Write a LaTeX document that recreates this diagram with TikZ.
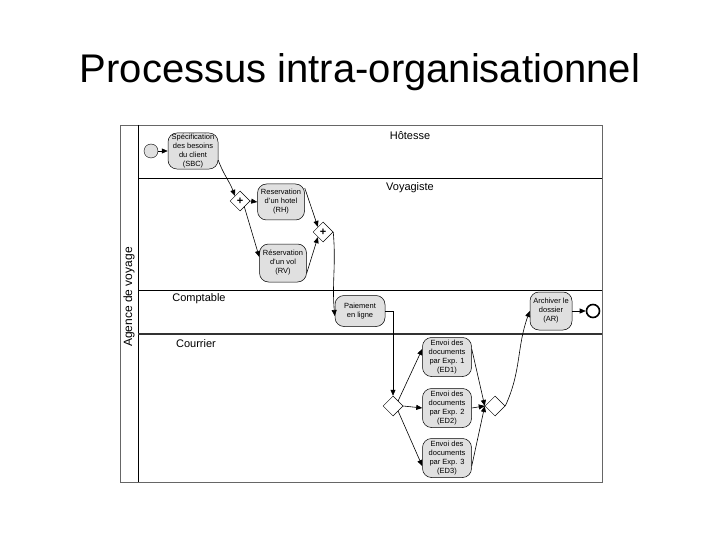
\documentclass[tikz,border=0pt]{standalone}
\usepackage{fontspec}
\setmainfont{Liberation Sans}
\usetikzlibrary{arrows.meta,shapes.geometric}
\begin{document}
\begin{tikzpicture}[x=1pt,y=-1pt,
  task/.style={draw=black,fill=black!12,rounded corners=9pt,minimum width=48pt,minimum height=36pt,inner sep=1pt,align=center,font=\fontsize{7.5}{9}\selectfont,line width=0.5pt},
  gate/.style={draw=black,fill=white,diamond,minimum width=20pt,minimum height=20pt,inner sep=0pt,line width=0.5pt,font=\fontsize{11}{11}\selectfont\bfseries},
  flow/.style={-{Triangle[length=6pt,width=5pt]},line width=0.6pt},
  lane/.style={font=\fontsize{11}{13}\selectfont}]
\useasboundingbox (0,0) rectangle (720,540);
% title
\node[font=\fontsize{40}{44}\selectfont,anchor=base] (title) at (360,83) {Processus intra-organisationnel};
% pool
\draw[black!60,line width=0.8pt] (120,125) rectangle (602,482);
\draw[black,line width=0.8pt] (138,125) -- (138,482);
\draw[black,line width=0.8pt] (138,178) -- (602,178);
\draw[black,line width=0.8pt] (138,290) -- (602,290);
\draw[black!80,line width=1.3pt] (138,334) -- (602,334);
\node[font=\fontsize{12}{14}\selectfont,rotate=90] (pool) at (129,297) {Agence de voyage};
\node[lane] (l1) at (410,136) {Hôtesse};
\node[lane] (l2) at (410,188) {Voyagiste};
\node[lane] (l3) at (199,299) {Comptable};
\node[lane] (l4) at (196,344) {Courrier};
% events
\node[circle,draw=black,fill=black!12,minimum size=14pt,inner sep=0pt] (start) at (151,151) {};
\node[circle,draw=black,line width=1.6pt,fill=white,minimum size=13pt,inner sep=0pt] (end) at (593,311) {};
% tasks
\node[task,minimum width=50pt,minimum height=34pt] (sbc) at (193,151) {Spécification\\des besoins\\du client\\(SBC)};
\node[task,minimum width=47pt] (rh) at (281,202) {Reservation\\d'un hotel\\(RH)};
\node[task,minimum width=47pt,minimum height=38pt] (rv) at (283,263) {Réservation\\d'un vol\\(RV)};
\node[task,minimum width=50pt,minimum height=31pt] (pay) at (360,311) {Paiement\\en ligne};
\node[task,minimum width=42pt,minimum height=38pt] (ar) at (551,311) {Archiver le\\dossier\\(AR)};
\node[task,minimum width=49pt,minimum height=39pt] (ed1) at (447,357) {Envoi des\\documents\\par Exp. 1\\(ED1)};
\node[task,minimum width=49pt,minimum height=39pt] (ed2) at (447,408) {Envoi des\\documents\\par Exp. 2\\(ED2)};
\node[task,minimum width=49pt,minimum height=39pt] (ed3) at (447,458) {Envoi des\\documents\\par Exp. 3\\(ED3)};
% gateways
\node[gate] (g1) at (240,201) {+};
\node[gate] (g2) at (323,232) {+};
\node[gate] (g3) at (393,406) {};
\node[gate] (g4) at (495,406) {};
% flows
\draw[flow] (start) -- (sbc);
\draw[flow] (sbc.-20) to[out=-70,in=110] (g1.north west);
\draw[flow] (g1.east) -- (rh.west);
\draw[flow] ([xshift=-1pt]g1.south east) -- ([yshift=6pt]rv.west);
\draw[flow] ([yshift=14pt]rh.east) -- (g2.north west);
\draw[flow] ([yshift=-10pt]rv.east) -- (g2.south west);
\draw[flow] (g2.east) to[out=-85,in=95] ([yshift=-5pt]pay.west);
\draw[flow] (pay.east) -| (g3.north);
\draw[flow] (g3.north east) -- ([yshift=8pt]ed1.west);
\draw[flow] (g3.east) -- (ed2.west);
\draw[flow] (g3.south east) -- ([yshift=-8pt]ed3.west);
\draw[flow] ([yshift=8pt]ed1.east) -- (g4.west);
\draw[flow] (ed2.east) -- (g4.west);
\draw[flow] ([yshift=-8pt]ed3.east) -- (g4.west);
\draw[flow] (g4.east) to[out=65,in=250] (ar.west);
\draw[flow] (ar) -- (end);
\end{tikzpicture}
\end{document}
